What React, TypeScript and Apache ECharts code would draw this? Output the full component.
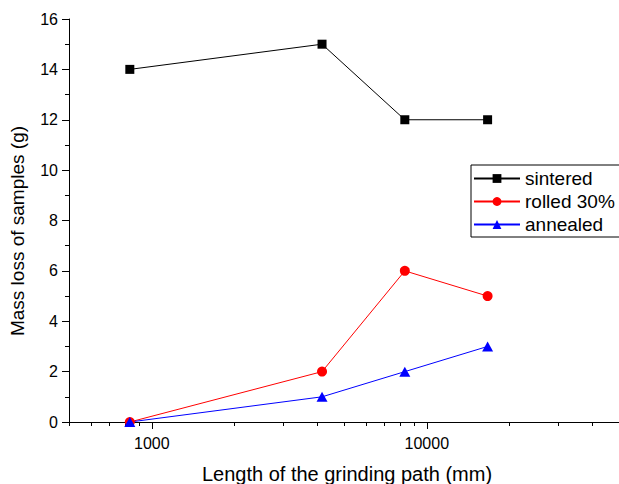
import React, { useEffect, useRef } from "react";
import * as echarts from "echarts";

const lengthsMm = [832, 4160, 8320, 16640];
const sintered = [14, 15, 12, 12];
const rolled30 = [0, 2, 6, 5];
const annealed = [0, 1, 2, 3];
const seriesNames = ["sintered", "rolled 30%", "annealed"];
const majorXTicks = [1000, 10000];
const minorXTicks = [500, 600, 700, 800, 900, 2000, 3000, 4000, 5000, 6000, 7000, 8000, 9000, 20000, 30000, 40000];
const xTitle = "Length of the grinding path (mm)";
const yTitle = "Mass loss of samples (g)";

const FONT = "'Liberation Sans', Arial, Helvetica, sans-serif";

export default function App() {
  const ref = useRef<HTMLDivElement>(null);
  useEffect(() => {
    if (!ref.current) return;
    const chart = echarts.init(ref.current, null, { renderer: "svg" });
    const pts = (ys: number[]) => lengthsMm.map((x, i) => [x, ys[i]]);
    const xCommon = {
      type: "log" as const,
      logBase: 10,
      min: 500,
      max: 50000,
      position: "bottom" as const,
      splitLine: { show: false },
    };
    chart.setOption({
      animation: false,
      backgroundColor: "#fff",
      textStyle: { fontFamily: FONT },
      grid: { left: 69, top: 19, bottom: 62, right: -13, containLabel: false },
      xAxis: [
        {
          ...xCommon,
          axisLine: { show: true, lineStyle: { color: "#000", width: 1 } },
          axisTick: { show: true, inside: false, length: 7, customValues: majorXTicks, lineStyle: { color: "#000" } },
          axisLabel: { show: true, customValues: majorXTicks, fontSize: 16, color: "#000", margin: 13, fontFamily: FONT, formatter: (v: number) => String(Math.round(v)) },
        },
        {
          ...xCommon,
          axisLine: { show: false },
          axisTick: { show: true, inside: false, length: 4, customValues: minorXTicks, lineStyle: { color: "#000" } },
          axisLabel: { show: false },
        },
      ],
      yAxis: {
        type: "value",
        min: 0,
        max: 16,
        interval: 2,
        splitLine: { show: false },
        axisLine: { show: true, lineStyle: { color: "#000", width: 1 } },
        axisTick: { show: true, inside: false, length: 7, lineStyle: { color: "#000" } },
        minorTick: { show: true, splitNumber: 2, length: 4, lineStyle: { color: "#000" } },
        axisLabel: { fontSize: 16, color: "#000", margin: 11, fontFamily: FONT },
      },
      legend: {
        data: seriesNames,
        orient: "vertical",
        left: 471,
        top: 165,
        itemWidth: 46,
        itemHeight: 11,
        itemGap: 4,
        padding: [4, 6, 3, 2],
        borderColor: "#000",
        borderWidth: 1,
        borderRadius: 0,
        textStyle: { fontSize: 19, lineHeight: 19, color: "#000", fontFamily: FONT },
      },
      graphic: [
        {
          type: "text",
          x: 347,
          y: 474,
          style: { text: xTitle, font: `20px ${FONT}`, fill: "#000", textAlign: "center", textVerticalAlign: "middle" },
        },
        {
          type: "text",
          x: 17,
          y: 231,
          rotation: Math.PI / 2,
          style: { text: yTitle, font: `19px ${FONT}`, fill: "#000", textAlign: "center", textVerticalAlign: "middle" },
        },
      ],
      series: [
        {
          name: seriesNames[0],
          type: "line",
          xAxisIndex: 0,
          data: pts(sintered),
          symbol: "rect",
          symbolSize: 9,
          lineStyle: { color: "#000", width: 1 },
          itemStyle: { color: "#000" },
        },
        {
          name: seriesNames[1],
          type: "line",
          xAxisIndex: 0,
          data: pts(rolled30),
          symbol: "circle",
          symbolSize: 10,
          lineStyle: { color: "#ff0000", width: 1 },
          itemStyle: { color: "#ff0000" },
        },
        {
          name: seriesNames[2],
          type: "line",
          xAxisIndex: 0,
          data: pts(annealed),
          symbol: "triangle",
          symbolSize: [11, 10],
          lineStyle: { color: "#0000ff", width: 1 },
          itemStyle: { color: "#0000ff" },
        },
      ],
    });
    return () => chart.dispose();
  }, []);
  return <div ref={ref} style={{ position: "fixed", left: 0, top: 0, width: 619, height: 484 }} />;
}
